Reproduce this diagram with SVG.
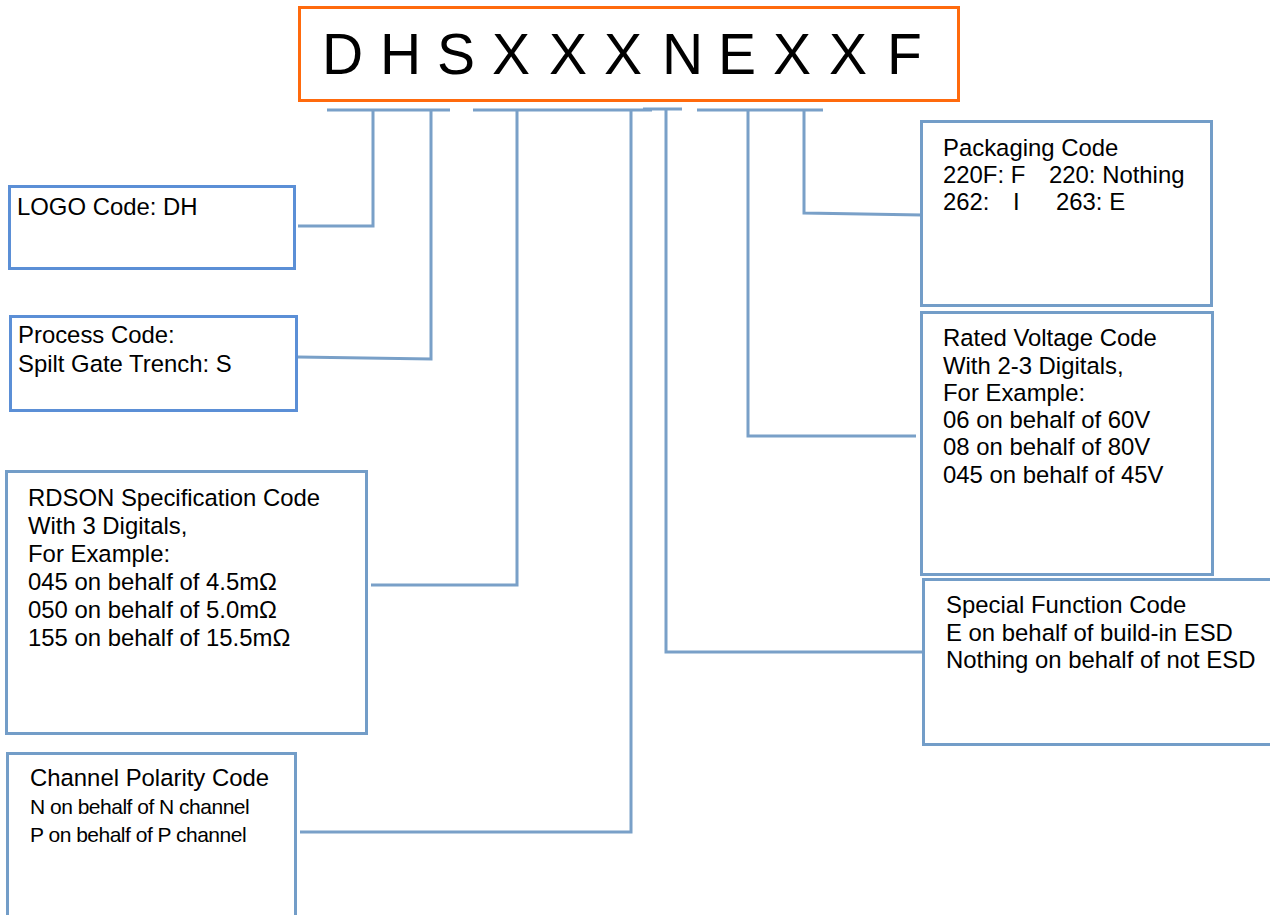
<svg xmlns="http://www.w3.org/2000/svg" width="1270" height="915" viewBox="0 0 1270 915">
<style>
.box{fill:#fff;stroke:#739DC8;stroke-width:3}
.box2{fill:#fff;stroke:#5B8FD6;stroke-width:3}
.c{fill:none;stroke:#79A0C8;stroke-width:3}
.t{font-family:"Liberation Sans",Arial,sans-serif;font-size:23.9px;fill:#000}
.tn{font-family:"Liberation Sans",Arial,sans-serif;font-size:21px;letter-spacing:-0.5px;fill:#000}
.code{font-family:"Liberation Sans",Arial,sans-serif;font-size:57px;fill:#000}
</style>
<rect width="1270" height="915" fill="#fff"/>
<g id="code">
<rect x="299.5" y="7.5" width="659" height="93" fill="#fff" stroke="#FF6A0D" stroke-width="3"/>
<text class="code" x="322 380 437 492 549 604 662 718 773 829 887" y="74">DHSXXXNEXXF</text>
</g>
<g id="connectors">
<path class="c" d="M327 110H450M473 110H652M643 109H682M697 110H823"/>
<path class="c" d="M373 110V226H298"/>
<path class="c" d="M431 110V359L298 357"/>
<path class="c" d="M517 110V585H371"/>
<path class="c" d="M631 110V832H300"/>
<path class="c" d="M666 109V652H924"/>
<path class="c" d="M748 110V436H916"/>
<path class="c" d="M804 110V213L922 215"/>
</g>
<g id="logo">
<rect class="box2" x="9.5" y="186.5" width="285" height="82"/>
<text class="t" x="17" y="215">LOGO Code: DH</text>
</g>
<g id="process">
<rect class="box2" x="10.5" y="316.5" width="286" height="94"/>
<text class="t" x="18" y="343">Process Code:</text>
<text class="t" x="18" y="372">Spilt Gate Trench: S</text>
</g>
<g id="rdson">
<rect class="box" x="6.5" y="471.5" width="360" height="262"/>
<text class="t" x="28" y="506">RDSON Specification Code</text>
<text class="t" x="28" y="534">With 3 Digitals,</text>
<text class="t" x="28" y="562">For Example:</text>
<text class="t" x="28" y="590">045 on behalf of 4.5mΩ</text>
<text class="t" x="28" y="618">050 on behalf of 5.0mΩ</text>
<text class="t" x="28" y="646">155 on behalf of 15.5mΩ</text>
</g>
<g id="channel">
<rect class="box" x="7.5" y="753.5" width="288" height="180"/>
<text class="t" x="30" y="786">Channel Polarity Code</text>
<text class="tn" x="30" y="814">N on behalf of N channel</text>
<text class="tn" x="30" y="842">P on behalf of P channel</text>
</g>
<g id="packaging">
<rect class="box" x="921.5" y="121.5" width="290" height="184"/>
<text class="t" x="943" y="156">Packaging Code</text>
<text class="t" x="943" y="183">220F: F</text>
<text class="t" x="1049" y="183">220: Nothing</text>
<text class="t" x="943" y="210">262:</text>
<text class="t" x="1013" y="210">I</text>
<text class="t" x="1056" y="210">263: E</text>
</g>
<g id="voltage">
<rect class="box" x="921.5" y="312.5" width="291" height="262"/>
<text class="t" x="943" y="346">Rated Voltage Code</text>
<text class="t" x="943" y="374">With 2-3 Digitals,</text>
<text class="t" x="943" y="401">For Example:</text>
<text class="t" x="943" y="428">06 on behalf of 60V</text>
<text class="t" x="943" y="455">08 on behalf of 80V</text>
<text class="t" x="943" y="483">045 on behalf of 45V</text>
</g>
<g id="special">
<rect class="box" x="923.5" y="579.5" width="360" height="165"/>
<text class="t" x="946" y="613">Special Function Code</text>
<text class="t" x="946" y="641">E on behalf of build-in ESD</text>
<text class="t" x="946" y="668">Nothing on behalf of not ESD</text>
</g>
</svg>
